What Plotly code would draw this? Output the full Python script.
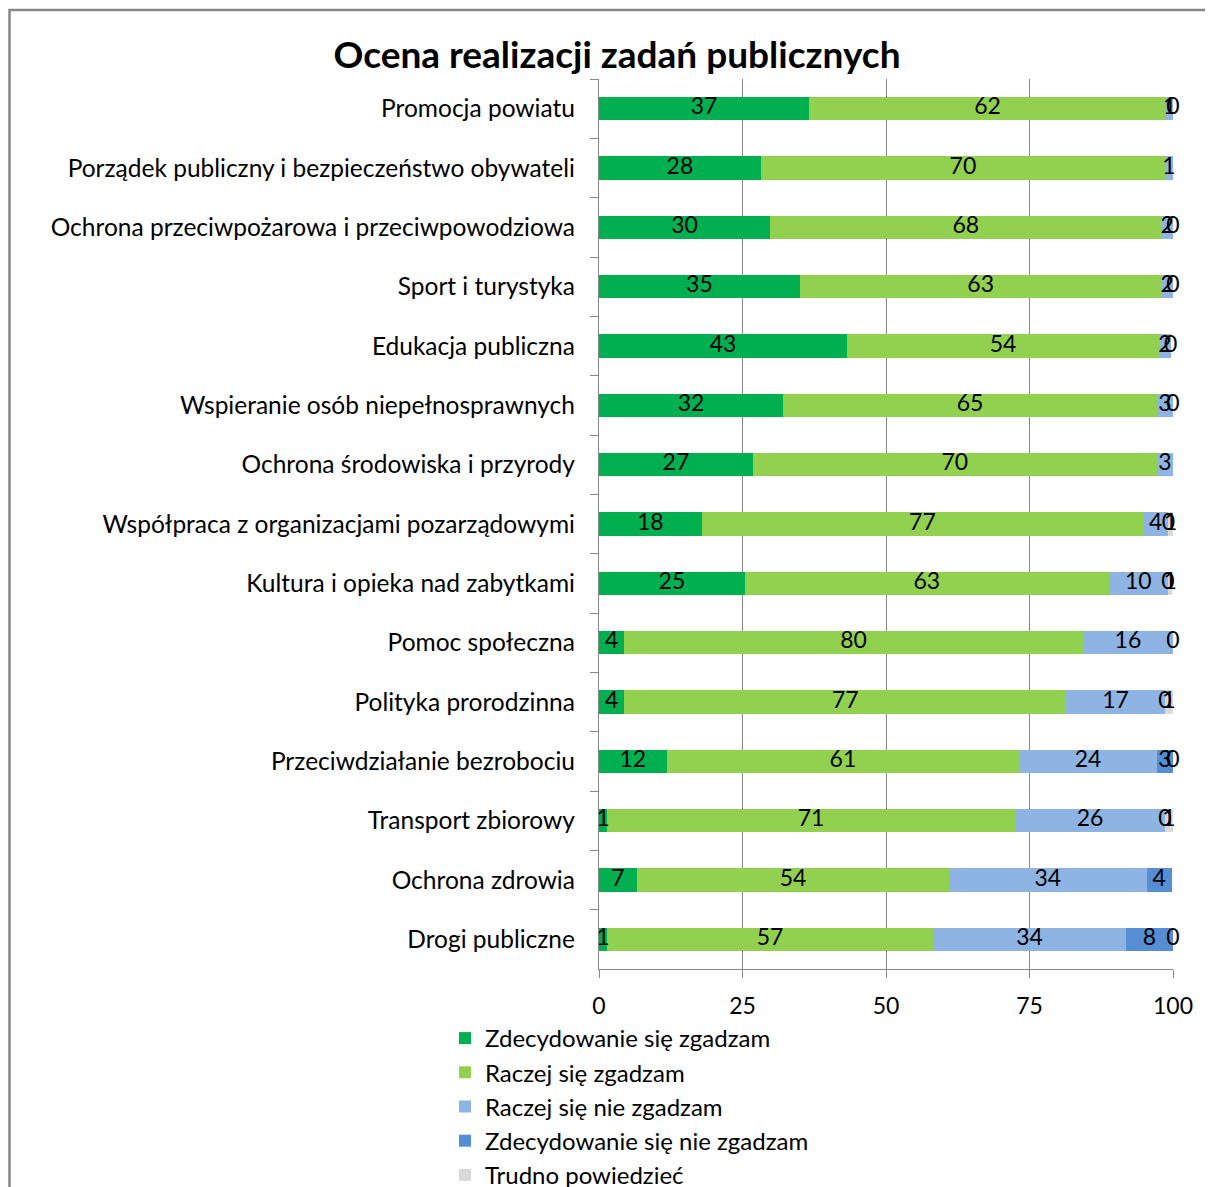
import plotly.graph_objects as go

categories = [
    "Promocja powiatu",
    "Porządek publiczny i bezpieczeństwo obywateli",
    "Ochrona przeciwpożarowa i przeciwpowodziowa",
    "Sport i turystyka",
    "Edukacja publiczna",
    "Wspieranie osób niepełnosprawnych",
    "Ochrona środowiska i przyrody",
    "Współpraca z organizacjami pozarządowymi",
    "Kultura i opieka nad zabytkami",
    "Pomoc społeczna",
    "Polityka prorodzinna",
    "Przeciwdziałanie bezrobociu",
    "Transport zbiorowy",
    "Ochrona zdrowia",
    "Drogi publiczne",
]

series_names = [
    "Zdecydowanie się zgadzam",
    "Raczej się zgadzam",
    "Raczej się nie zgadzam",
    "Zdecydowanie się nie zgadzam",
    "Trudno powiedzieć",
]

zdecydowanie_zgadzam = [36.6, 28.2, 29.8, 35.0, 43.2, 32.1, 26.8, 17.9, 25.4, 4.4, 4.4, 11.8, 1.4, 6.6, 1.4]
raczej_zgadzam = [62.2, 70.4, 68.2, 63.0, 54.4, 65.1, 70.4, 76.9, 63.4, 79.9, 77.0, 61.4, 71.1, 54.4, 56.8]
raczej_nie_zgadzam = [1.2, 1.4, 2.0, 2.0, 2.0, 2.8, 2.8, 4.4, 10.3, 15.7, 17.2, 24.0, 26.1, 34.4, 33.6]
zdecydowanie_nie_zgadzam = [0, None, 0, 0, 0, 0, None, 0, 0, 0, 0, 2.8, 0, 4.4, 8.2]
trudno_powiedziec = [None, None, None, None, None, None, None, 0.8, 0.8, None, 1.4, 0, 1.4, None, 0]

series_values = [zdecydowanie_zgadzam, raczej_zgadzam, raczej_nie_zgadzam,
                 zdecydowanie_nie_zgadzam, trudno_powiedziec]
colors = ["#00B050", "#92D050", "#8EB4E3", "#558ED5", "#D9D9D9"]

x_ticks = [0, 25, 50, 75, 100]

FONT = "Lato, 'Open Sans', sans-serif"
W, H = 1205, 1179
L, R, T, B = 591, 40, 71, 218
pw = W - L - R
ph = H - T - B

fig = go.Figure()

for name, vals, col in zip(series_names, series_values, colors):
    fig.add_trace(go.Bar(
        y=categories, x=[v if v is not None else 0 for v in vals],
        name=name, orientation="h", marker=dict(color=col, line=dict(width=0)),
        width=0.39, legendgroup=name, hoverinfo="x+y+name",
    ))

# labels at segment centres
cum = [0.0] * len(categories)
for name, vals in zip(series_names, series_values):
    xs, ys, ts = [], [], []
    for i, v in enumerate(vals):
        if v is None:
            continue
        xs.append(min(round(cum[i] + v / 2, 4), 100))
        ys.append(categories[i])
        ts.append(str(int(round(v))))
        cum[i] += v
    fig.add_trace(go.Scatter(
        x=xs, y=ys, text=ts, mode="text", showlegend=False, hoverinfo="skip",
        textfont=dict(family=FONT, size=23, color="#000000"),
        textposition="middle center", cliponaxis=False,
    ))

n = len(categories)
fig.update_layout(
    width=W, height=H, autosize=False,
    margin=dict(l=L, r=R, t=T, b=B, pad=0, autoexpand=False),
    paper_bgcolor="white", plot_bgcolor="white",
    barmode="stack", bargap=0.61,
    font=dict(family=FONT, size=23, color="#000000"),
    title=dict(text="<b>Ocena realizacji zadań publicznych</b>",
               x=609 / W, xanchor="center", y=1 - 47 / H, yanchor="middle",
               font=dict(family=FONT, size=37, color="#000000")),
    xaxis=dict(range=[0, 100], tickvals=x_ticks, ticktext=[str(t) for t in x_ticks],
               showgrid=True, gridcolor="#888888", gridwidth=1.3,
               showline=True, linecolor="#888888", linewidth=1.3,
               ticks="outside", ticklen=8, tickcolor="#888888", tickwidth=1.3,
               zeroline=False, tickfont=dict(size=23), ticklabelstandoff=8,
               fixedrange=True),
    yaxis=dict(range=[n - 0.5, -0.5], autorange=False,
               showline=True, linecolor="#888888", linewidth=1.3,
               ticks="outside", tickson="boundaries", ticklen=8, tickcolor="#888888",
               tickwidth=1.3, showgrid=False, tickfont=dict(size=24.5),
               ticklabelstandoff=18, fixedrange=True),
    legend=dict(orientation="v", x=(437 - L) / pw, xanchor="left",
                y=(H - B - 1008) / ph, yanchor="top",
                traceorder="grouped", tracegroupgap=0,
                font=dict(size=24), bgcolor="rgba(0,0,0,0)", itemwidth=30),
    showlegend=True,
)

fig.add_shape(type="rect", xref="paper", yref="paper",
              x0=(1.5 - L) / pw, x1=(W + 20 - L) / pw,
              y0=(H - B - (H + 20)) / ph, y1=1 + (T - 2) / ph,
              line=dict(color="#888888", width=2.5), fillcolor="rgba(0,0,0,0)", layer="below")

fig.write_html("out.html")
